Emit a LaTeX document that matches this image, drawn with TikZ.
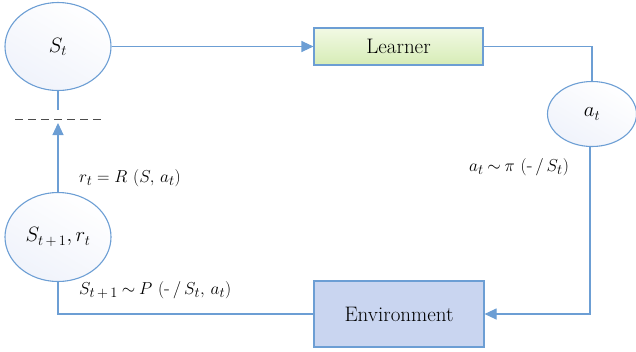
\documentclass[tikz,border=0pt]{standalone}
\usetikzlibrary{arrows.meta,shapes.geometric}
\definecolor{lineblue}{RGB}{108,158,212}
\definecolor{envfill}{RGB}{201,213,240}
\definecolor{lgtop}{RGB}{242,249,228}
\definecolor{lgbot}{RGB}{214,236,182}
\definecolor{elbot}{RGB}{240,243,251}
\begin{document}
\begin{tikzpicture}[x=1pt,y=-1pt,
  every node/.style={font=\fontsize{21}{24}\selectfont},
  conn/.style={draw=lineblue, line width=1.1pt},
  arr/.style={conn, -{Triangle[length=12pt,width=11pt]}},
  state/.style={ellipse, draw=lineblue, line width=1.1pt, inner sep=0pt,
    top color=white, bottom color=elbot, shading angle=-30},
  learnerbox/.style={rectangle, draw=lineblue, line width=1.1pt, minimum width=169pt, minimum height=37pt,
    top color=lgtop, bottom color=lgbot},
  envbox/.style={rectangle, draw=lineblue, line width=1.1pt, fill=envfill, minimum width=170pt, minimum height=66pt},
  lbl/.style={inner sep=0pt, font=\fontsize{19}{22}\selectfont}
]
\useasboundingbox (0,0) rectangle (636,351);
\node[state, minimum width=106pt, minimum height=88pt] (st) at (58,46.5) {$S_t$};
\node[state, minimum width=106pt, minimum height=89pt] (st1) at (58,237) {$S_{t\,+\,1}, r_t$};
\node[state, minimum width=89pt, minimum height=65pt] (at) at (592,114) {$a_t$};
\node[learnerbox] (learner) at (398.5,46.5) {Learner};
\node[envbox] (env) at (399,314) {Environment};

\coordinate (c2) at (590,314);
\coordinate (c3) at (58,314);
\coordinate (up1) at (58,110);
\coordinate (up2) at (58,123);
\coordinate (d1) at (15,119);
\coordinate (d2) at (102,119);

\draw[arr] (st.east) -- (learner.west);
\draw[conn] (learner.east) -- (learner.east -| at.north) -- (at.north);
\draw[arr] (at.south -| c2) -- (c2) -- (env.east);
\draw[conn] (env.west) -- (c3) -- (st1.south);
\draw[arr] (st1.north) -- (up2);
\draw[conn] (st.south) -- (up1);
\draw[draw=black!70, line width=1pt, dash pattern=on 8pt off 5pt] (d1) -- (d2);

\node[lbl, anchor=west] (lr) at (79,178) {$r_t = R\ (S,\, a_t)$};
\node[lbl] (la) at (519,167) {$a_t \mathbin{\sim} \pi\ (\mbox{-} \,/\, S_t)$};
\node[lbl, anchor=west] (ls) at (79,290) {$S_{t\,+\,1} \mathbin{\sim} P\ (\mbox{-} \,/\, S_t,\, a_t)$};
\end{tikzpicture}
\end{document}
